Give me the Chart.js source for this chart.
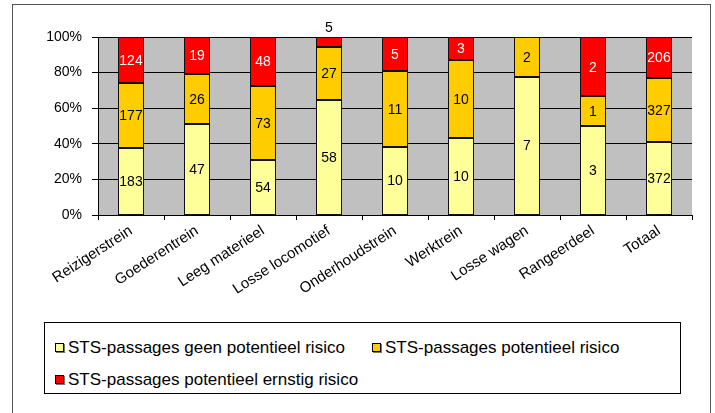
<!DOCTYPE html>
<html>
<head>
<meta charset="utf-8">
<script src="https://cdn.jsdelivr.net/npm/chart.js@4/dist/chart.umd.min.js"></script>
<style>
  html, body { margin: 0; padding: 0; background: #fff; overflow: hidden; }
  #wrap { position: relative; width: 715px; height: 413px; overflow: hidden; font-family: "Liberation Sans", Arial, sans-serif; }
  #frame { position: absolute; left: 12px; top: 4px; width: 697px; height: 430px; border: 1px solid #555; }
  #chart { position: absolute; left: 0; top: 0; }
  #legend { position: absolute; left: 44px; top: 322px; width: 637px; height: 72px; border: 1px solid #000; box-sizing: border-box; }
  .item { position: absolute; font-size: 17px; color: #000; white-space: nowrap; line-height: 20px; }
  .sw { display: inline-block; width: 7px; height: 7px; border: 1px solid #000; margin-right: 4px; vertical-align: 1px; box-shadow: 1px 1px 0 #777; }
</style>
</head>
<body>
<div id="wrap">
  <div id="frame"></div>
  <canvas id="chart" width="715" height="320"></canvas>
  <div id="legend"></div>
</div>
<script>
// ── Data ──────────────────────────────────────────────────────────────────────
const CATEGORIES = ['Reizigerstrein', 'Goederentrein', 'Leeg materieel', 'Losse locomotief',
                    'Onderhoudstrein', 'Werktrein', 'Losse wagen', 'Rangeerdeel', 'Totaal'];
const GEEN_RISICO    = [183, 47, 54, 58, 10, 10, 7, 3, 372];
const RISICO         = [177, 26, 73, 27, 11, 10, 2, 1, 327];
const ERNSTIG_RISICO = [124, 19, 48, 5, 5, 3, 0, 2, 206];
const Y_TICKS = [0, 20, 40, 60, 80, 100];

const SERIES = [
  { label: 'STS-passages geen potentieel risico',     data: GEEN_RISICO,    color: '#FFFF99', text: '#000' },
  { label: 'STS-passages potentieel risico',          data: RISICO,         color: '#FFCC00', text: '#000' },
  { label: 'STS-passages potentieel ernstig risico',  data: ERNSTIG_RISICO, color: '#FF0000', text: '#fff' },
];

const totals = CATEGORIES.map((_, i) => SERIES.reduce((s, ser) => s + ser.data[i], 0));

// ── Plugins ───────────────────────────────────────────────────────────────────
const plotBackground = {
  id: 'plotBackground',
  beforeDraw(chart) {
    const { ctx, chartArea: a } = chart;
    ctx.save();
    ctx.fillStyle = '#C0C0C0';
    ctx.fillRect(a.left, a.top, a.right - a.left, a.bottom - a.top);
    ctx.restore();
  }
};

// crisp 1px outlines round every segment, then the counts
const barDecor = {
  id: 'barDecor',
  afterDatasetsDraw(chart) {
    const { ctx } = chart;
    ctx.save();
    ctx.strokeStyle = '#111';
    ctx.lineWidth = 1;
    SERIES.forEach((ser, di) => {
      chart.getDatasetMeta(di).data.forEach((bar, i) => {
        if (!ser.data[i]) return;
        const l = Math.round(bar.x - bar.width / 2) + 0.5;
        const r = Math.round(bar.x + bar.width / 2) - 0.5;
        const t = Math.round(Math.min(bar.y, bar.base)) + 0.5;
        const b = Math.round(Math.max(bar.y, bar.base)) - 0.5;
        ctx.strokeRect(l, t, r - l, b - t);
      });
    });

    ctx.font = '14px "Liberation Sans", Arial, sans-serif';
    ctx.textAlign = 'center';
    ctx.textBaseline = 'middle';
    SERIES.forEach((ser, di) => {
      chart.getDatasetMeta(di).data.forEach((bar, i) => {
        const v = ser.data[i];
        if (!v) return;
        const h = Math.abs(bar.base - bar.y);
        if (h < 14) {
          ctx.fillStyle = '#000';
          ctx.fillText(String(v), bar.x, Math.min(bar.y, bar.base) - 9);
        } else {
          ctx.fillStyle = ser.text;
          ctx.fillText(String(v), bar.x, (bar.y + bar.base) / 2 + 1);
        }
      });
    });
    ctx.restore();
  }
};

// ── Chart ─────────────────────────────────────────────────────────────────────
const FONT = { family: '"Liberation Sans", Arial, sans-serif', size: 14 };

new Chart(document.getElementById('chart'), {
  type: 'bar',
  data: {
    labels: CATEGORIES,
    datasets: SERIES.map(ser => ({
      label: ser.label,
      data: ser.data.map((v, i) => v ? v / totals[i] * 100 : null),
      backgroundColor: ser.color,
      borderWidth: 0,
      inflateAmount: 0,
      categoryPercentage: 1,
      barPercentage: 26 / 66,
    }))
  },
  options: {
    responsive: false,
    animation: false,
    layout: { padding: { top: 37, right: 23, left: 0, bottom: 0 } },
    plugins: { legend: { display: false }, tooltip: { enabled: false } },
    scales: {
      x: {
        stacked: true,
        offset: true,
        grid: { offset: true, drawOnChartArea: false, color: '#000', tickLength: 5 },
        border: { color: '#000', width: 1 },
        ticks: { color: '#000', font: { ...FONT, size: 15 }, minRotation: 33, maxRotation: 33, padding: 2, autoSkip: false },
        afterFit(scale) { scale.height = 105; },
      },
      y: {
        stacked: true,
        min: 0, max: 100,
        afterBuildTicks(scale) { scale.ticks = Y_TICKS.map(v => ({ value: v })); },
        grid: { color: '#000', tickLength: 6 },
        border: { color: '#000', width: 1 },
        ticks: { color: '#000', font: FONT, padding: 10, callback: v => v + '%' },
        afterFit(scale) { scale.width = 98; },
      }
    }
  },
  plugins: [plotBackground, barDecor]
});

// ── Legend ────────────────────────────────────────────────────────────────────
const LEGEND_POS = [[10, 15], [327, 15], [10, 47]];
const legend = document.getElementById('legend');
SERIES.forEach((ser, i) => {
  const el = document.createElement('div');
  el.className = 'item';
  el.style.left = LEGEND_POS[i][0] + 'px';
  el.style.top = LEGEND_POS[i][1] + 'px';
  el.innerHTML = `<span class="sw" style="background:${ser.color}"></span>${ser.label}`;
  legend.appendChild(el);
});
</script>
</body>
</html>
